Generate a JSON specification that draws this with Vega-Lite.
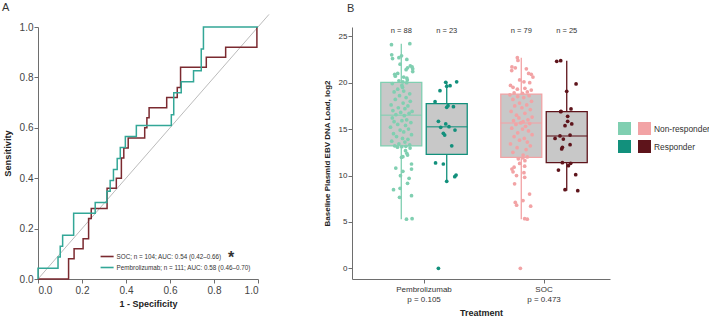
{
  "$schema": "https://vega.github.io/schema/vega-lite/v6.json",
  "background": "white",
  "padding": {"left": 2, "top": 1, "right": 94, "bottom": 2},
  "bounds": "flush",
  "spacing": 94,
  "config": {
    "font": "Liberation Sans",
    "view": {"stroke": null},
    "axis": {"grid": false, "domainColor": "#6e6e6e", "tickColor": "#6e6e6e", "labelColor": "#444444", "titleColor": "#222222", "titleFontWeight": "bold", "tickSize": 4, "labelPadding": 1},
    "title": {"fontSize": 11, "fontWeight": "normal", "color": "#333333", "anchor": "start", "frame": "group", "baseline": "top"}
  },
  "hconcat": [
    {
      "width": 220,
      "height": 252,
      "title": {"text": "A", "dx": -36, "offset": 1},
      "layer": [
        {
          "data": {"values": [{}]},
          "mark": {"type": "rule", "color": "#a9a9a9", "strokeWidth": 0.8},
          "encoding": {
            "x": {"datum": 0, "type": "quantitative", "scale": {"domain": [0, 1], "nice": false}},
            "y": {"datum": 0, "type": "quantitative", "scale": {"domain": [0, 1], "nice": false}},
            "x2": {"datum": 1.05},
            "y2": {"datum": 1.05}
          }
        },
        {
          "data": {"values": [
            {"arm": "SOC", "step": 0, "fpr": 0, "tpr": 0},
            {"arm": "SOC", "step": 1, "fpr": 0.139, "tpr": 0.08},
            {"arm": "SOC", "step": 2, "fpr": 0.164, "tpr": 0.12},
            {"arm": "SOC", "step": 3, "fpr": 0.205, "tpr": 0.16},
            {"arm": "SOC", "step": 4, "fpr": 0.23, "tpr": 0.24},
            {"arm": "SOC", "step": 5, "fpr": 0.242, "tpr": 0.28},
            {"arm": "SOC", "step": 6, "fpr": 0.314, "tpr": 0.36},
            {"arm": "SOC", "step": 7, "fpr": 0.356, "tpr": 0.4},
            {"arm": "SOC", "step": 8, "fpr": 0.379, "tpr": 0.48},
            {"arm": "SOC", "step": 9, "fpr": 0.39, "tpr": 0.52},
            {"arm": "SOC", "step": 10, "fpr": 0.41, "tpr": 0.56},
            {"arm": "SOC", "step": 11, "fpr": 0.485, "tpr": 0.6},
            {"arm": "SOC", "step": 12, "fpr": 0.495, "tpr": 0.64},
            {"arm": "SOC", "step": 13, "fpr": 0.505, "tpr": 0.68},
            {"arm": "SOC", "step": 14, "fpr": 0.585, "tpr": 0.72},
            {"arm": "SOC", "step": 15, "fpr": 0.633, "tpr": 0.76},
            {"arm": "SOC", "step": 16, "fpr": 0.648, "tpr": 0.84},
            {"arm": "SOC", "step": 17, "fpr": 0.765, "tpr": 0.88},
            {"arm": "SOC", "step": 18, "fpr": 0.853, "tpr": 0.92},
            {"arm": "SOC", "step": 19, "fpr": 0.995, "tpr": 1.0},
            {"arm": "Pembrolizumab", "step": 0, "fpr": 0, "tpr": 0},
            {"arm": "Pembrolizumab", "step": 1, "fpr": 0, "tpr": 0.043},
            {"arm": "Pembrolizumab", "step": 2, "fpr": 0.091, "tpr": 0.087},
            {"arm": "Pembrolizumab", "step": 3, "fpr": 0.101, "tpr": 0.13},
            {"arm": "Pembrolizumab", "step": 4, "fpr": 0.112, "tpr": 0.174},
            {"arm": "Pembrolizumab", "step": 5, "fpr": 0.162, "tpr": 0.261},
            {"arm": "Pembrolizumab", "step": 6, "fpr": 0.26, "tpr": 0.304},
            {"arm": "Pembrolizumab", "step": 7, "fpr": 0.313, "tpr": 0.348},
            {"arm": "Pembrolizumab", "step": 8, "fpr": 0.328, "tpr": 0.391},
            {"arm": "Pembrolizumab", "step": 9, "fpr": 0.343, "tpr": 0.435},
            {"arm": "Pembrolizumab", "step": 10, "fpr": 0.36, "tpr": 0.478},
            {"arm": "Pembrolizumab", "step": 11, "fpr": 0.374, "tpr": 0.522},
            {"arm": "Pembrolizumab", "step": 12, "fpr": 0.397, "tpr": 0.565},
            {"arm": "Pembrolizumab", "step": 13, "fpr": 0.447, "tpr": 0.609},
            {"arm": "Pembrolizumab", "step": 14, "fpr": 0.606, "tpr": 0.652},
            {"arm": "Pembrolizumab", "step": 15, "fpr": 0.617, "tpr": 0.739},
            {"arm": "Pembrolizumab", "step": 16, "fpr": 0.651, "tpr": 0.783},
            {"arm": "Pembrolizumab", "step": 17, "fpr": 0.707, "tpr": 0.826},
            {"arm": "Pembrolizumab", "step": 18, "fpr": 0.742, "tpr": 0.913},
            {"arm": "Pembrolizumab", "step": 19, "fpr": 0.752, "tpr": 1.0},
            {"arm": "Pembrolizumab", "step": 20, "fpr": 1.0, "tpr": 1.0}
          ]},
          "mark": {"type": "line", "interpolate": "step-after", "strokeWidth": 1.5},
          "encoding": {
            "x": {"field": "fpr", "type": "quantitative", "scale": {"domain": [0, 1], "nice": false}, "title": "1 - Specificity",
                  "axis": {"values": [0, 0.2, 0.4, 0.6, 0.8, 1], "format": ".1f", "labelFontSize": 10, "titleFontSize": 9, "labelPadding": 2, "titlePadding": 4}},
            "y": {"field": "tpr", "type": "quantitative", "scale": {"domain": [0, 1], "nice": false}, "title": "Sensitivity",
                  "axis": {"values": [0, 0.2, 0.4, 0.6, 0.8, 1], "format": ".1f", "labelFontSize": 10, "titleFontSize": 9.3, "labelPadding": 1, "titlePadding": 7}},
            "order": {"field": "step", "type": "quantitative"},
            "color": {"field": "arm", "type": "nominal",
                      "scale": {"domain": ["SOC", "Pembrolizumab"], "range": ["#7b2a30", "#33a797"]},
                      "legend": {"orient": "none", "legendX": 61.6, "legendY": 222, "title": null, "padding": 0,
                                 "symbolType": "stroke", "symbolSize": 170, "symbolStrokeWidth": 1.6,
                                 "labelFontSize": 6.3, "labelColor": "#333333", "labelOffset": 2, "rowPadding": -5,
                                 "labelExpr": "datum.label == 'SOC' ? 'SOC; n = 104; AUC: 0.54 (0.42–0.66)' : 'Pembrolizumab; n = 111; AUC: 0.58 (0.46–0.70)'"}}
          }
        },
        {
          "data": {"values": [{}]},
          "mark": {"type": "text", "text": "*", "fontSize": 16, "fontWeight": "bold", "color": "#333333", "baseline": "alphabetic", "align": "center"},
          "encoding": {
            "x": {"datum": 0.878, "type": "quantitative"},
            "y": {"datum": 0.063, "type": "quantitative"}
          }
        }
      ]
    },
    {
      "width": 258,
      "height": 252,
      "title": {"text": "B", "dx": -5, "offset": 13},
      "data": {"values": [
        {"treatment": "Pembrolizumab", "response": "Non-responder", "load": 5.3, "jitter": 0.43},
        {"treatment": "Pembrolizumab", "response": "Non-responder", "load": 5.35, "jitter": 0.9},
        {"treatment": "Pembrolizumab", "response": "Non-responder", "load": 7.65, "jitter": -0.15},
        {"treatment": "Pembrolizumab", "response": "Non-responder", "load": 7.82, "jitter": 0.85},
        {"treatment": "Pembrolizumab", "response": "Non-responder", "load": 8.47, "jitter": -0.65},
        {"treatment": "Pembrolizumab", "response": "Non-responder", "load": 8.62, "jitter": -0.1},
        {"treatment": "Pembrolizumab", "response": "Non-responder", "load": 9.16, "jitter": 0.52},
        {"treatment": "Pembrolizumab", "response": "Non-responder", "load": 9.7, "jitter": 0.65},
        {"treatment": "Pembrolizumab", "response": "Non-responder", "load": 9.98, "jitter": -0.07},
        {"treatment": "Pembrolizumab", "response": "Non-responder", "load": 10.45, "jitter": 0.13},
        {"treatment": "Pembrolizumab", "response": "Non-responder", "load": 10.7, "jitter": 0.85},
        {"treatment": "Pembrolizumab", "response": "Non-responder", "load": 10.8, "jitter": -0.46},
        {"treatment": "Pembrolizumab", "response": "Non-responder", "load": 11.24, "jitter": 0.85},
        {"treatment": "Pembrolizumab", "response": "Non-responder", "load": 11.96, "jitter": 0.02},
        {"treatment": "Pembrolizumab", "response": "Non-responder", "load": 12.03, "jitter": 0.13},
        {"treatment": "Pembrolizumab", "response": "Non-responder", "load": 12.2, "jitter": 0.52},
        {"treatment": "Pembrolizumab", "response": "Non-responder", "load": 12.39, "jitter": 0.46},
        {"treatment": "Pembrolizumab", "response": "Non-responder", "load": 12.67, "jitter": 0.35},
        {"treatment": "Pembrolizumab", "response": "Non-responder", "load": 12.96, "jitter": 0.73},
        {"treatment": "Pembrolizumab", "response": "Non-responder", "load": 13.05, "jitter": -0.32},
        {"treatment": "Pembrolizumab", "response": "Non-responder", "load": 13.1, "jitter": 0.04},
        {"treatment": "Pembrolizumab", "response": "Non-responder", "load": 13.15, "jitter": 0.38},
        {"treatment": "Pembrolizumab", "response": "Non-responder", "load": 13.2, "jitter": -0.55},
        {"treatment": "Pembrolizumab", "response": "Non-responder", "load": 13.3, "jitter": 0.7},
        {"treatment": "Pembrolizumab", "response": "Non-responder", "load": 13.4, "jitter": -0.2},
        {"treatment": "Pembrolizumab", "response": "Non-responder", "load": 13.6, "jitter": 0.3},
        {"treatment": "Pembrolizumab", "response": "Non-responder", "load": 13.7, "jitter": -0.8},
        {"treatment": "Pembrolizumab", "response": "Non-responder", "load": 13.9, "jitter": 0.55},
        {"treatment": "Pembrolizumab", "response": "Non-responder", "load": 14.0, "jitter": 0.1},
        {"treatment": "Pembrolizumab", "response": "Non-responder", "load": 14.2, "jitter": -0.4},
        {"treatment": "Pembrolizumab", "response": "Non-responder", "load": 14.4, "jitter": 0.85},
        {"treatment": "Pembrolizumab", "response": "Non-responder", "load": 14.5, "jitter": -0.65},
        {"treatment": "Pembrolizumab", "response": "Non-responder", "load": 14.7, "jitter": 0.2},
        {"treatment": "Pembrolizumab", "response": "Non-responder", "load": 14.9, "jitter": -0.1},
        {"treatment": "Pembrolizumab", "response": "Non-responder", "load": 15.0, "jitter": 0.6},
        {"treatment": "Pembrolizumab", "response": "Non-responder", "load": 15.2, "jitter": -0.9},
        {"treatment": "Pembrolizumab", "response": "Non-responder", "load": 15.4, "jitter": 0.35},
        {"treatment": "Pembrolizumab", "response": "Non-responder", "load": 15.5, "jitter": -0.3},
        {"treatment": "Pembrolizumab", "response": "Non-responder", "load": 15.7, "jitter": 0.8},
        {"treatment": "Pembrolizumab", "response": "Non-responder", "load": 15.8, "jitter": -0.6},
        {"treatment": "Pembrolizumab", "response": "Non-responder", "load": 15.9, "jitter": 0.05},
        {"treatment": "Pembrolizumab", "response": "Non-responder", "load": 16.0, "jitter": 0.45},
        {"treatment": "Pembrolizumab", "response": "Non-responder", "load": 16.2, "jitter": -0.75},
        {"treatment": "Pembrolizumab", "response": "Non-responder", "load": 16.45, "jitter": 0.25},
        {"treatment": "Pembrolizumab", "response": "Non-responder", "load": 16.55, "jitter": -0.45},
        {"treatment": "Pembrolizumab", "response": "Non-responder", "load": 16.7, "jitter": 0.65},
        {"treatment": "Pembrolizumab", "response": "Non-responder", "load": 16.8, "jitter": -0.05},
        {"treatment": "Pembrolizumab", "response": "Non-responder", "load": 16.9, "jitter": 0.9},
        {"treatment": "Pembrolizumab", "response": "Non-responder", "load": 17.0, "jitter": -0.7},
        {"treatment": "Pembrolizumab", "response": "Non-responder", "load": 17.2, "jitter": 0.3},
        {"treatment": "Pembrolizumab", "response": "Non-responder", "load": 17.3, "jitter": -0.25},
        {"treatment": "Pembrolizumab", "response": "Non-responder", "load": 17.5, "jitter": 0.55},
        {"treatment": "Pembrolizumab", "response": "Non-responder", "load": 17.6, "jitter": -0.85},
        {"treatment": "Pembrolizumab", "response": "Non-responder", "load": 17.8, "jitter": 0.15},
        {"treatment": "Pembrolizumab", "response": "Non-responder", "load": 18.0, "jitter": 0.75},
        {"treatment": "Pembrolizumab", "response": "Non-responder", "load": 18.2, "jitter": -0.5},
        {"treatment": "Pembrolizumab", "response": "Non-responder", "load": 18.4, "jitter": 0.4},
        {"treatment": "Pembrolizumab", "response": "Non-responder", "load": 18.6, "jitter": -0.15},
        {"treatment": "Pembrolizumab", "response": "Non-responder", "load": 18.8, "jitter": 0.7},
        {"treatment": "Pembrolizumab", "response": "Non-responder", "load": 19.0, "jitter": -0.6},
        {"treatment": "Pembrolizumab", "response": "Non-responder", "load": 19.1, "jitter": 0.2},
        {"treatment": "Pembrolizumab", "response": "Non-responder", "load": 19.3, "jitter": -0.3},
        {"treatment": "Pembrolizumab", "response": "Non-responder", "load": 19.5, "jitter": 0.1},
        {"treatment": "Pembrolizumab", "response": "Non-responder", "load": 19.7, "jitter": 0.05},
        {"treatment": "Pembrolizumab", "response": "Non-responder", "load": 19.9, "jitter": -0.75},
        {"treatment": "Pembrolizumab", "response": "Non-responder", "load": 20.0, "jitter": 0.45},
        {"treatment": "Pembrolizumab", "response": "Non-responder", "load": 20.1, "jitter": 0.13},
        {"treatment": "Pembrolizumab", "response": "Non-responder", "load": 20.2, "jitter": -0.2},
        {"treatment": "Pembrolizumab", "response": "Non-responder", "load": 20.3, "jitter": 0.5},
        {"treatment": "Pembrolizumab", "response": "Non-responder", "load": 20.5, "jitter": 0.46},
        {"treatment": "Pembrolizumab", "response": "Non-responder", "load": 20.6, "jitter": 0.2},
        {"treatment": "Pembrolizumab", "response": "Non-responder", "load": 20.7, "jitter": -0.5},
        {"treatment": "Pembrolizumab", "response": "Non-responder", "load": 20.9, "jitter": -0.55},
        {"treatment": "Pembrolizumab", "response": "Non-responder", "load": 21.0, "jitter": -0.3},
        {"treatment": "Pembrolizumab", "response": "Non-responder", "load": 21.2, "jitter": 0.95},
        {"treatment": "Pembrolizumab", "response": "Non-responder", "load": 21.4, "jitter": 0.4},
        {"treatment": "Pembrolizumab", "response": "Non-responder", "load": 21.5, "jitter": 0.95},
        {"treatment": "Pembrolizumab", "response": "Non-responder", "load": 21.6, "jitter": 0.52},
        {"treatment": "Pembrolizumab", "response": "Non-responder", "load": 21.7, "jitter": 0.9},
        {"treatment": "Pembrolizumab", "response": "Non-responder", "load": 21.8, "jitter": 0.75},
        {"treatment": "Pembrolizumab", "response": "Non-responder", "load": 22.0, "jitter": -0.1},
        {"treatment": "Pembrolizumab", "response": "Non-responder", "load": 22.5, "jitter": 0.46},
        {"treatment": "Pembrolizumab", "response": "Non-responder", "load": 22.6, "jitter": -0.73},
        {"treatment": "Pembrolizumab", "response": "Non-responder", "load": 22.7, "jitter": -0.2},
        {"treatment": "Pembrolizumab", "response": "Non-responder", "load": 22.9, "jitter": 0.02},
        {"treatment": "Pembrolizumab", "response": "Non-responder", "load": 23.0, "jitter": -0.8},
        {"treatment": "Pembrolizumab", "response": "Non-responder", "load": 24.1, "jitter": -0.82},
        {"treatment": "Pembrolizumab", "response": "Non-responder", "load": 24.2, "jitter": 0.71},
        {"treatment": "Pembrolizumab", "response": "Responder", "load": 0, "jitter": -0.69},
        {"treatment": "Pembrolizumab", "response": "Responder", "load": 9.37, "jitter": 0.0},
        {"treatment": "Pembrolizumab", "response": "Responder", "load": 9.87, "jitter": 0.67},
        {"treatment": "Pembrolizumab", "response": "Responder", "load": 10.05, "jitter": 0.78},
        {"treatment": "Pembrolizumab", "response": "Responder", "load": 11.24, "jitter": -0.28},
        {"treatment": "Pembrolizumab", "response": "Responder", "load": 11.35, "jitter": -0.93},
        {"treatment": "Pembrolizumab", "response": "Responder", "load": 13.2, "jitter": 0.42},
        {"treatment": "Pembrolizumab", "response": "Responder", "load": 14.36, "jitter": -0.17},
        {"treatment": "Pembrolizumab", "response": "Responder", "load": 14.55, "jitter": -0.28},
        {"treatment": "Pembrolizumab", "response": "Responder", "load": 14.9, "jitter": 0.69},
        {"treatment": "Pembrolizumab", "response": "Responder", "load": 15.19, "jitter": -0.5},
        {"treatment": "Pembrolizumab", "response": "Responder", "load": 15.26, "jitter": 0.19},
        {"treatment": "Pembrolizumab", "response": "Responder", "load": 15.55, "jitter": -0.08},
        {"treatment": "Pembrolizumab", "response": "Responder", "load": 15.84, "jitter": -0.69},
        {"treatment": "Pembrolizumab", "response": "Responder", "load": 17.35, "jitter": 0.0},
        {"treatment": "Pembrolizumab", "response": "Responder", "load": 17.41, "jitter": 0.56},
        {"treatment": "Pembrolizumab", "response": "Responder", "load": 17.52, "jitter": 0.11},
        {"treatment": "Pembrolizumab", "response": "Responder", "load": 17.95, "jitter": -0.97},
        {"treatment": "Pembrolizumab", "response": "Responder", "load": 19.14, "jitter": -0.56},
        {"treatment": "Pembrolizumab", "response": "Responder", "load": 19.61, "jitter": 0.0},
        {"treatment": "Pembrolizumab", "response": "Responder", "load": 19.68, "jitter": 0.28},
        {"treatment": "Pembrolizumab", "response": "Responder", "load": 20.04, "jitter": -0.08},
        {"treatment": "Pembrolizumab", "response": "Responder", "load": 20.1, "jitter": 0.83},
        {"treatment": "SOC", "response": "Non-responder", "load": 0, "jitter": -0.08},
        {"treatment": "SOC", "response": "Non-responder", "load": 5.3, "jitter": 0.5},
        {"treatment": "SOC", "response": "Non-responder", "load": 5.35, "jitter": 0.28},
        {"treatment": "SOC", "response": "Non-responder", "load": 6.7, "jitter": 0.78},
        {"treatment": "SOC", "response": "Non-responder", "load": 6.8, "jitter": -0.39},
        {"treatment": "SOC", "response": "Non-responder", "load": 7.1, "jitter": -0.5},
        {"treatment": "SOC", "response": "Non-responder", "load": 7.3, "jitter": 0.14},
        {"treatment": "SOC", "response": "Non-responder", "load": 8.0, "jitter": 0.69},
        {"treatment": "SOC", "response": "Non-responder", "load": 9.1, "jitter": -0.56},
        {"treatment": "SOC", "response": "Non-responder", "load": 9.8, "jitter": 0.28},
        {"treatment": "SOC", "response": "Non-responder", "load": 10.0, "jitter": -0.4},
        {"treatment": "SOC", "response": "Non-responder", "load": 10.3, "jitter": 0.22},
        {"treatment": "SOC", "response": "Non-responder", "load": 10.4, "jitter": -0.69},
        {"treatment": "SOC", "response": "Non-responder", "load": 10.7, "jitter": -0.78},
        {"treatment": "SOC", "response": "Non-responder", "load": 10.9, "jitter": -0.6},
        {"treatment": "SOC", "response": "Non-responder", "load": 11.0, "jitter": 0.28},
        {"treatment": "SOC", "response": "Non-responder", "load": 11.3, "jitter": -0.14},
        {"treatment": "SOC", "response": "Non-responder", "load": 11.6, "jitter": 0.3},
        {"treatment": "SOC", "response": "Non-responder", "load": 11.8, "jitter": -0.25},
        {"treatment": "SOC", "response": "Non-responder", "load": 11.9, "jitter": 0.14},
        {"treatment": "SOC", "response": "Non-responder", "load": 12.0, "jitter": 0.5},
        {"treatment": "SOC", "response": "Non-responder", "load": 12.2, "jitter": 0.15},
        {"treatment": "SOC", "response": "Non-responder", "load": 12.5, "jitter": -0.7},
        {"treatment": "SOC", "response": "Non-responder", "load": 12.8, "jitter": 0.4},
        {"treatment": "SOC", "response": "Non-responder", "load": 13.0, "jitter": -0.35},
        {"treatment": "SOC", "response": "Non-responder", "load": 13.2, "jitter": 0.75},
        {"treatment": "SOC", "response": "Non-responder", "load": 13.4, "jitter": -0.9},
        {"treatment": "SOC", "response": "Non-responder", "load": 13.6, "jitter": 0.5},
        {"treatment": "SOC", "response": "Non-responder", "load": 13.8, "jitter": -0.15},
        {"treatment": "SOC", "response": "Non-responder", "load": 14.0, "jitter": 0.25},
        {"treatment": "SOC", "response": "Non-responder", "load": 14.2, "jitter": -0.6},
        {"treatment": "SOC", "response": "Non-responder", "load": 14.4, "jitter": 0.9},
        {"treatment": "SOC", "response": "Non-responder", "load": 14.6, "jitter": -0.3},
        {"treatment": "SOC", "response": "Non-responder", "load": 14.8, "jitter": 0.6},
        {"treatment": "SOC", "response": "Non-responder", "load": 15.0, "jitter": 0.1},
        {"treatment": "SOC", "response": "Non-responder", "load": 15.1, "jitter": -0.8},
        {"treatment": "SOC", "response": "Non-responder", "load": 15.3, "jitter": 0.35},
        {"treatment": "SOC", "response": "Non-responder", "load": 15.5, "jitter": -0.45},
        {"treatment": "SOC", "response": "Non-responder", "load": 15.6, "jitter": 0.7},
        {"treatment": "SOC", "response": "Non-responder", "load": 15.66, "jitter": -0.05},
        {"treatment": "SOC", "response": "Non-responder", "load": 15.8, "jitter": 0.15},
        {"treatment": "SOC", "response": "Non-responder", "load": 15.9, "jitter": -0.65},
        {"treatment": "SOC", "response": "Non-responder", "load": 16.0, "jitter": 0.55},
        {"treatment": "SOC", "response": "Non-responder", "load": 16.2, "jitter": -0.2},
        {"treatment": "SOC", "response": "Non-responder", "load": 16.3, "jitter": 0.9},
        {"treatment": "SOC", "response": "Non-responder", "load": 16.5, "jitter": -0.4},
        {"treatment": "SOC", "response": "Non-responder", "load": 16.7, "jitter": 0.3},
        {"treatment": "SOC", "response": "Non-responder", "load": 16.9, "jitter": -0.85},
        {"treatment": "SOC", "response": "Non-responder", "load": 17.1, "jitter": 0.75},
        {"treatment": "SOC", "response": "Non-responder", "load": 17.3, "jitter": 0.05},
        {"treatment": "SOC", "response": "Non-responder", "load": 17.5, "jitter": -0.55},
        {"treatment": "SOC", "response": "Non-responder", "load": 17.6, "jitter": 0.45},
        {"treatment": "SOC", "response": "Non-responder", "load": 17.8, "jitter": -0.15},
        {"treatment": "SOC", "response": "Non-responder", "load": 18.0, "jitter": 0.85},
        {"treatment": "SOC", "response": "Non-responder", "load": 18.2, "jitter": -0.7},
        {"treatment": "SOC", "response": "Non-responder", "load": 18.4, "jitter": 0.2},
        {"treatment": "SOC", "response": "Non-responder", "load": 18.5, "jitter": -0.3},
        {"treatment": "SOC", "response": "Non-responder", "load": 18.6, "jitter": 0.65},
        {"treatment": "SOC", "response": "Non-responder", "load": 18.7, "jitter": -0.95},
        {"treatment": "SOC", "response": "Non-responder", "load": 18.85, "jitter": 0.1},
        {"treatment": "SOC", "response": "Non-responder", "load": 18.9, "jitter": -0.6},
        {"treatment": "SOC", "response": "Non-responder", "load": 19.0, "jitter": 0.5},
        {"treatment": "SOC", "response": "Non-responder", "load": 19.2, "jitter": 0.83},
        {"treatment": "SOC", "response": "Non-responder", "load": 19.3, "jitter": -0.33},
        {"treatment": "SOC", "response": "Non-responder", "load": 19.4, "jitter": 0.3},
        {"treatment": "SOC", "response": "Non-responder", "load": 19.5, "jitter": -0.69},
        {"treatment": "SOC", "response": "Non-responder", "load": 19.7, "jitter": -0.9},
        {"treatment": "SOC", "response": "Non-responder", "load": 20.0, "jitter": 0.7},
        {"treatment": "SOC", "response": "Non-responder", "load": 20.1, "jitter": 0.22},
        {"treatment": "SOC", "response": "Non-responder", "load": 20.3, "jitter": -0.14},
        {"treatment": "SOC", "response": "Non-responder", "load": 20.6, "jitter": 0.97},
        {"treatment": "SOC", "response": "Non-responder", "load": 20.9, "jitter": 0.83},
        {"treatment": "SOC", "response": "Non-responder", "load": 21.0, "jitter": 0.61},
        {"treatment": "SOC", "response": "Non-responder", "load": 21.3, "jitter": -0.8},
        {"treatment": "SOC", "response": "Non-responder", "load": 21.5, "jitter": 0.42},
        {"treatment": "SOC", "response": "Non-responder", "load": 21.6, "jitter": -0.5},
        {"treatment": "SOC", "response": "Non-responder", "load": 21.7, "jitter": -0.78},
        {"treatment": "SOC", "response": "Non-responder", "load": 22.4, "jitter": -0.28},
        {"treatment": "SOC", "response": "Non-responder", "load": 22.7, "jitter": -0.33},
        {"treatment": "SOC", "response": "Responder", "load": 8.37, "jitter": 0.92},
        {"treatment": "SOC", "response": "Responder", "load": 8.47, "jitter": -0.14},
        {"treatment": "SOC", "response": "Responder", "load": 10.09, "jitter": 0.75},
        {"treatment": "SOC", "response": "Responder", "load": 10.59, "jitter": -0.69},
        {"treatment": "SOC", "response": "Responder", "load": 11.06, "jitter": 0.14},
        {"treatment": "SOC", "response": "Responder", "load": 11.31, "jitter": 0.33},
        {"treatment": "SOC", "response": "Responder", "load": 11.38, "jitter": -0.36},
        {"treatment": "SOC", "response": "Responder", "load": 12.86, "jitter": -0.42},
        {"treatment": "SOC", "response": "Responder", "load": 13.04, "jitter": -0.36},
        {"treatment": "SOC", "response": "Responder", "load": 13.32, "jitter": 0.28},
        {"treatment": "SOC", "response": "Responder", "load": 13.93, "jitter": -0.28},
        {"treatment": "SOC", "response": "Responder", "load": 14.0, "jitter": -0.97},
        {"treatment": "SOC", "response": "Responder", "load": 14.26, "jitter": -0.56},
        {"treatment": "SOC", "response": "Responder", "load": 14.36, "jitter": 0.28},
        {"treatment": "SOC", "response": "Responder", "load": 15.37, "jitter": -0.14},
        {"treatment": "SOC", "response": "Responder", "load": 15.55, "jitter": 0.42},
        {"treatment": "SOC", "response": "Responder", "load": 15.84, "jitter": 0.08},
        {"treatment": "SOC", "response": "Responder", "load": 16.38, "jitter": 0.08},
        {"treatment": "SOC", "response": "Responder", "load": 16.88, "jitter": -0.5},
        {"treatment": "SOC", "response": "Responder", "load": 16.92, "jitter": -0.47},
        {"treatment": "SOC", "response": "Responder", "load": 17.17, "jitter": 0.36},
        {"treatment": "SOC", "response": "Responder", "load": 19.07, "jitter": 0.0},
        {"treatment": "SOC", "response": "Responder", "load": 19.86, "jitter": 0.78},
        {"treatment": "SOC", "response": "Responder", "load": 22.3, "jitter": -0.83},
        {"treatment": "SOC", "response": "Responder", "load": 22.37, "jitter": -0.5}
      ]},
      "transform": [{"calculate": "datum.treatment + '|' + datum.response", "as": "group"}],
      "layer": [
        {
          "transform": [
            {"joinaggregate": [
              {"op": "q1", "field": "load", "as": "lq"},
              {"op": "q3", "field": "load", "as": "uq"},
              {"op": "median", "field": "load", "as": "mid"},
              {"op": "count", "as": "total"}
            ], "groupby": ["treatment", "response", "group"]},
            {"filter": "datum.load >= datum.lq - 1.5 * (datum.uq - datum.lq) && datum.load <= datum.uq + 1.5 * (datum.uq - datum.lq)"},
            {"aggregate": [
              {"op": "min", "field": "load", "as": "lo"},
              {"op": "max", "field": "load", "as": "hi"},
              {"op": "max", "field": "lq", "as": "q1"},
              {"op": "max", "field": "uq", "as": "q3"},
              {"op": "max", "field": "mid", "as": "med"},
              {"op": "max", "field": "total", "as": "n"}
            ], "groupby": ["treatment", "response", "group"]},
            {"calculate": "'n = ' + datum.n", "as": "nlabel"}
          ],
          "layer": [
            {
              "mark": {"type": "rule", "strokeWidth": 1.3},
              "encoding": {
                "x": {"field": "treatment", "type": "nominal", "scale": {"type": "band", "domain": ["Pembrolizumab", "SOC"], "paddingInner": 0, "paddingOuter": 0.075, "align": 0.667}, "title": "Treatment",
                      "axis": {"labelAngle": 0, "labelFontSize": 8, "labelLineHeight": 10.5, "labelPadding": 2, "titleFontSize": 9, "titlePadding": 5, "labelColor": "#333333",
                               "labelExpr": "datum.value == 'SOC' ? ['SOC', 'p = 0.473'] : ['Pembrolizumab', 'p = 0.105']"}},
                "xOffset": {"field": "response", "type": "nominal", "scale": {"type": "band", "domain": ["Non-responder", "Responder"], "paddingInner": 0, "paddingOuter": 0.32}},
                "y": {"field": "lo", "type": "quantitative", "scale": {"domain": [-1.15, 26.0], "nice": false, "zero": false}, "title": "Baseline Plasmid EBV DNA Load, log2",
                      "axis": {"values": [0, 5, 10, 15, 20, 25], "labelFontSize": 8, "titleFontSize": 8, "titlePadding": 7, "labelColor": "#333333"}},
                "y2": {"field": "hi"},
                "stroke": {"field": "group", "type": "nominal", "scale": {"domain": ["Pembrolizumab|Non-responder", "Pembrolizumab|Responder", "SOC|Non-responder", "SOC|Responder"], "range": ["#80cfb1", "#12907c", "#f2a3a5", "#5e141b"]}, "legend": null}
              }
            },
            {
              "mark": {"type": "bar", "fill": "#c8c8c8", "strokeWidth": 1.3, "width": 41},
              "encoding": {
                "x": {"field": "treatment", "type": "nominal", "scale": {"type": "band", "domain": ["Pembrolizumab", "SOC"], "paddingInner": 0, "paddingOuter": 0.075, "align": 0.667}, "title": "Treatment"},
                "xOffset": {"field": "response", "type": "nominal", "scale": {"type": "band", "domain": ["Non-responder", "Responder"], "paddingInner": 0, "paddingOuter": 0.32}},
                "y": {"field": "q1", "type": "quantitative", "title": "Baseline Plasmid EBV DNA Load, log2"},
                "y2": {"field": "q3"},
                "stroke": {"field": "group", "type": "nominal", "scale": {"domain": ["Pembrolizumab|Non-responder", "Pembrolizumab|Responder", "SOC|Non-responder", "SOC|Responder"], "range": ["#80cfb1", "#12907c", "#f2a3a5", "#5e141b"]}, "legend": null}
              }
            },
            {
              "mark": {"type": "tick", "orient": "horizontal", "size": 41, "thickness": 1.6},
              "encoding": {
                "x": {"field": "treatment", "type": "nominal", "scale": {"type": "band", "domain": ["Pembrolizumab", "SOC"], "paddingInner": 0, "paddingOuter": 0.075, "align": 0.667}, "title": "Treatment"},
                "xOffset": {"field": "response", "type": "nominal", "scale": {"type": "band", "domain": ["Non-responder", "Responder"], "paddingInner": 0, "paddingOuter": 0.32}},
                "y": {"field": "med", "type": "quantitative", "title": "Baseline Plasmid EBV DNA Load, log2"},
                "fill": {"field": "group", "type": "nominal", "scale": {"domain": ["Pembrolizumab|Non-responder", "SOC|Non-responder", "Pembrolizumab|Responder", "SOC|Responder"], "range": ["#80cfb1", "#f2a3a5", "#12907c", "#5e141b"]},
                         "legend": {"orient": "none", "legendX": 580, "legendY": 95, "title": null, "padding": 0, "columns": 2, "columnPadding": 4, "rowPadding": 5,
                                    "values": ["Pembrolizumab|Non-responder", "Pembrolizumab|Responder", "SOC|Non-responder", "SOC|Responder"],
                                    "symbolType": "square", "symbolSize": 169, "symbolStrokeWidth": 0, "symbolOpacity": 1,
                                    "labelFontSize": 8.4, "labelColor": "#333333", "labelOffset": 3,
                                    "labelExpr": "indexof(datum.label, 'SOC') == 0 ? split(datum.label, '|')[1] : ''"}}
              }
            },
            {
              "mark": {"type": "text", "fontSize": 7.5, "color": "#333333"},
              "encoding": {
                "x": {"field": "treatment", "type": "nominal", "scale": {"type": "band", "domain": ["Pembrolizumab", "SOC"], "paddingInner": 0, "paddingOuter": 0.075, "align": 0.667}, "title": "Treatment"},
                "xOffset": {"field": "response", "type": "nominal", "scale": {"type": "band", "domain": ["Non-responder", "Responder"], "paddingInner": 0, "paddingOuter": 0.32}},
                "y": {"datum": 25.6, "type": "quantitative"},
                "text": {"field": "nlabel"}
              }
            }
          ]
        },
        {
          "transform": [{"filter": "datum.response == 'Non-responder'"}],
          "mark": {"type": "circle", "size": 14, "opacity": 1},
          "encoding": {
            "x": {"field": "treatment", "type": "nominal", "scale": {"type": "band", "domain": ["Pembrolizumab", "SOC"], "paddingInner": 0, "paddingOuter": 0.075, "align": 0.667}, "title": "Treatment"},
            "xOffset": {"field": "jitter", "type": "quantitative", "scale": {"domain": [-1, 1], "range": [25.3, 49.3]}},
            "y": {"field": "load", "type": "quantitative", "title": "Baseline Plasmid EBV DNA Load, log2"},
            "fill": {"field": "group", "type": "nominal", "scale": {"domain": ["Pembrolizumab|Non-responder", "SOC|Non-responder", "Pembrolizumab|Responder", "SOC|Responder"], "range": ["#80cfb1", "#f2a3a5", "#12907c", "#5e141b"]},
                     "legend": {"orient": "none", "legendX": 580, "legendY": 95, "title": null, "padding": 0, "columns": 2, "columnPadding": 4, "rowPadding": 5,
                                "values": ["Pembrolizumab|Non-responder", "Pembrolizumab|Responder", "SOC|Non-responder", "SOC|Responder"],
                                "symbolType": "square", "symbolSize": 169, "symbolStrokeWidth": 0, "symbolOpacity": 1,
                                "labelFontSize": 8.4, "labelColor": "#333333", "labelOffset": 3,
                                "labelExpr": "indexof(datum.label, 'SOC') == 0 ? split(datum.label, '|')[1] : ''"}}
          }
        },
        {
          "transform": [{"filter": "datum.response == 'Responder'"}],
          "mark": {"type": "circle", "size": 14, "opacity": 1},
          "encoding": {
            "x": {"field": "treatment", "type": "nominal", "scale": {"type": "band", "domain": ["Pembrolizumab", "SOC"], "paddingInner": 0, "paddingOuter": 0.075, "align": 0.667}, "title": "Treatment"},
            "xOffset": {"field": "jitter", "type": "quantitative", "scale": {"domain": [-1, 1], "range": [70.7, 94.7]}},
            "y": {"field": "load", "type": "quantitative", "title": "Baseline Plasmid EBV DNA Load, log2"},
            "fill": {"field": "group", "type": "nominal", "scale": {"domain": ["Pembrolizumab|Non-responder", "SOC|Non-responder", "Pembrolizumab|Responder", "SOC|Responder"], "range": ["#80cfb1", "#f2a3a5", "#12907c", "#5e141b"]},
                     "legend": {"orient": "none", "legendX": 580, "legendY": 95, "title": null, "padding": 0, "columns": 2, "columnPadding": 4, "rowPadding": 5,
                                "values": ["Pembrolizumab|Non-responder", "Pembrolizumab|Responder", "SOC|Non-responder", "SOC|Responder"],
                                "symbolType": "square", "symbolSize": 169, "symbolStrokeWidth": 0, "symbolOpacity": 1,
                                "labelFontSize": 8.4, "labelColor": "#333333", "labelOffset": 3,
                                "labelExpr": "indexof(datum.label, 'SOC') == 0 ? split(datum.label, '|')[1] : ''"}}
          }
        }
      ],
      "resolve": {"scale": {"xOffset": "independent"}}
    }
  ]
}
